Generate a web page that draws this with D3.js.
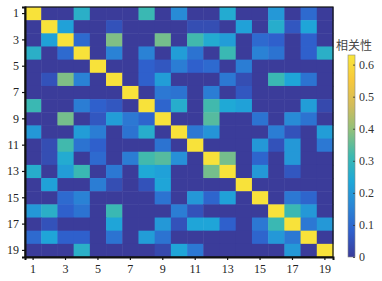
<!DOCTYPE html>
<html>
<head>
<meta charset="utf-8">
<script src="https://cdn.jsdelivr.net/npm/d3@7"></script>
<style>
body { margin: 0; background: #fff; }
</style>
</head>
<body>
<div id="heat"></div>
<script>
// variable index 1..19
const labels = d3.range(1, 20);
const tickLabels = [1, 3, 5, 7, 9, 11, 13, 15, 17, 19];
const cbarTicks = [0, 0.1, 0.2, 0.3, 0.4, 0.5, 0.6];
const cbarTitle = "相关性";

// correlation matrix
const corr = [
  [.62, 0, 0, .27, 0, 0, 0, .31, 0, .17, 0, 0, .25, 0, 0, .20, 0, .10, 0],
  [0, .62, .22, 0, 0, .05, 0, 0, 0, 0, .04, .04, 0, .22, 0, .26, .06, .23, 0],
  [0, .22, .62, .10, 0, .38, 0, 0, .37, 0, .32, .25, .21, 0, .10, .08, 0, .08, 0],
  [.27, 0, .10, .62, 0, .15, 0, .15, 0, .21, .12, 0, .31, 0, .15, .12, 0, .08, .27],
  [0, 0, 0, 0, .62, 0, 0, .08, .06, .14, .08, .10, 0, .14, 0, 0, 0, 0, 0],
  [0, .05, .38, .15, 0, .62, 0, .08, .21, 0, 0, 0, .13, .04, 0, .31, .23, .12, 0],
  [0, 0, 0, 0, 0, 0, .62, 0, .13, .12, 0, .14, 0, .06, 0, 0, 0, 0, 0],
  [.31, 0, 0, .14, .08, .06, 0, .62, .09, .26, 0, .32, .24, .22, 0, 0, 0, .21, .03],
  [0, 0, .37, 0, .06, .21, .13, .09, .62, 0, 0, .34, 0, 0, .12, 0, .17, .12, 0],
  [.20, 0, 0, .21, .14, 0, .12, .26, 0, .62, .13, .19, 0, 0, 0, .14, .05, 0, .21],
  [0, .04, .32, .12, .08, 0, 0, 0, .12, 0, .62, 0, 0, 0, .20, .05, .20, 0, .13],
  [0, .04, .25, 0, .10, 0, .14, .32, .34, .18, 0, .62, .37, 0, .09, 0, .20, 0, 0],
  [.26, 0, .21, .31, 0, .13, 0, .24, .22, 0, 0, .37, .62, 0, .20, 0, .06, 0, 0],
  [0, .22, 0, 0, .14, .04, 0, .05, .23, 0, 0, 0, 0, .62, 0, 0, 0, 0, 0],
  [0, 0, .10, .15, 0, 0, 0, 0, .12, 0, .20, .09, .22, 0, .62, 0, .13, .09, 0],
  [.20, .27, .08, .12, 0, .31, 0, 0, 0, .14, .05, 0, 0, 0, 0, .62, .31, .20, 0],
  [0, .05, 0, 0, 0, .23, 0, 0, .20, .05, .23, .23, .08, 0, .13, .31, .62, .13, .20],
  [.10, .23, .08, .08, 0, .12, 0, .21, .12, 0, 0, 0, 0, 0, .09, .20, .13, .62, 0],
  [0, 0, 0, .27, 0, 0, 0, 0, .03, .23, .13, 0, 0, 0, 0, 0, .20, 0, .62]
];

// parula, slightly muted like the source image
const parula = ["#3b3c9a", "#2f5fcc", "#2a86d6", "#1ea8d8", "#3cb9b0", "#8ec07c", "#d2bc5c", "#f7c83c", "#f8e63a"];

function drawHeat() {
  const width = 382,
      height = 281,
      margin = ({ top: 7, right: 49, bottom: 24, left: 25 });
  const vmax = 0.63;

  let svg = d3.select("#heat")
    .append("svg")
    .attr("width", width)
    .attr("height", height)
    .style("font-family", "'Liberation Serif', 'Times New Roman', serif");

  let x = d3.scaleBand()
    .domain(labels)
    .range([margin.left, width - margin.right]);

  let y = d3.scaleBand()
    .domain(labels)
    .range([margin.top, height - margin.bottom]);

  let color = d3.scaleLinear()
    .domain(parula.map((c, i) => i / (parula.length - 1) * vmax))
    .range(parula)
    .clamp(true);

  let cells = [];
  corr.forEach((row, i) => row.forEach((v, j) => cells.push({ r: labels[i], c: labels[j], v: v })));

  svg.append("g")
    .selectAll("rect")
    .data(cells)
    .join("rect")
    .attr("x", d => x(d.c))
    .attr("y", d => y(d.r))
    .attr("width", x.bandwidth() + 0.5) // small overlap so no seams
    .attr("height", y.bandwidth() + 0.5)
    .attr("fill", d => color(d.v));

  // box
  svg.append("rect")
    .attr("x", margin.left)
    .attr("y", margin.top)
    .attr("width", width - margin.right - margin.left)
    .attr("height", height - margin.bottom - margin.top)
    .attr("fill", "none")
    .attr("stroke", "#111")
    .attr("stroke-width", 1.2);

  let ax = svg.append("g")
    .attr("transform", `translate(0,${height - margin.bottom})`)
    .call(d3.axisBottom(x).tickValues(tickLabels).tickSize(3).tickPadding(4));

  let ay = svg.append("g")
    .attr("transform", `translate(${margin.left},0)`)
    .call(d3.axisLeft(y).tickValues(tickLabels).tickSize(3).tickPadding(3));

  [ax, ay].forEach(g => {
    g.select(".domain").attr("stroke", "#111").attr("stroke-width", 2);
    g.selectAll(".tick line").attr("stroke", "#111").attr("stroke-width", 1.2);
    g.selectAll(".tick text")
      .attr("fill", "#222")
      .style("font-size", "12px")
      .style("font-family", "'Liberation Serif', serif");
  });

  // colorbar
  const cb = { x: 348, w: 7, top: 55, bottom: 257 };
  let cy = d3.scaleLinear().domain([0, vmax]).range([cb.bottom, cb.top]);

  let grad = svg.append("defs").append("linearGradient")
    .attr("id", "cbgrad")
    .attr("x1", 0).attr("y1", 1).attr("x2", 0).attr("y2", 0);
  grad.selectAll("stop")
    .data(parula)
    .join("stop")
    .attr("offset", (d, i) => i / (parula.length - 1))
    .attr("stop-color", d => d);

  svg.append("rect")
    .attr("x", cb.x)
    .attr("y", cb.top)
    .attr("width", cb.w)
    .attr("height", cb.bottom - cb.top)
    .attr("fill", "url(#cbgrad)")
    .attr("stroke", "#888")
    .attr("stroke-width", 0.6);

  let cax = svg.append("g")
    .attr("transform", `translate(${cb.x + cb.w},0)`)
    .call(d3.axisRight(cy).tickValues(cbarTicks).tickSize(-2).tickPadding(4).tickFormat(d3.format(".1~f")));
  cax.select(".domain").remove();
  cax.selectAll(".tick line").attr("stroke", "#333").attr("stroke-width", 0.8);
  cax.selectAll(".tick text")
    .attr("fill", "#333")
    .style("font-size", "12px")
    .style("font-family", "'Liberation Serif', serif");

  svg.append("text")
    .attr("x", cb.x + 6)
    .attr("y", 50)
    .attr("text-anchor", "middle")
    .attr("fill", "#444")
    .style("font-size", "12px")
    .style("font-family", "'Noto Sans CJK SC', sans-serif")
    .text(cbarTitle);
}
drawHeat()
</script>
</body>
</html>
